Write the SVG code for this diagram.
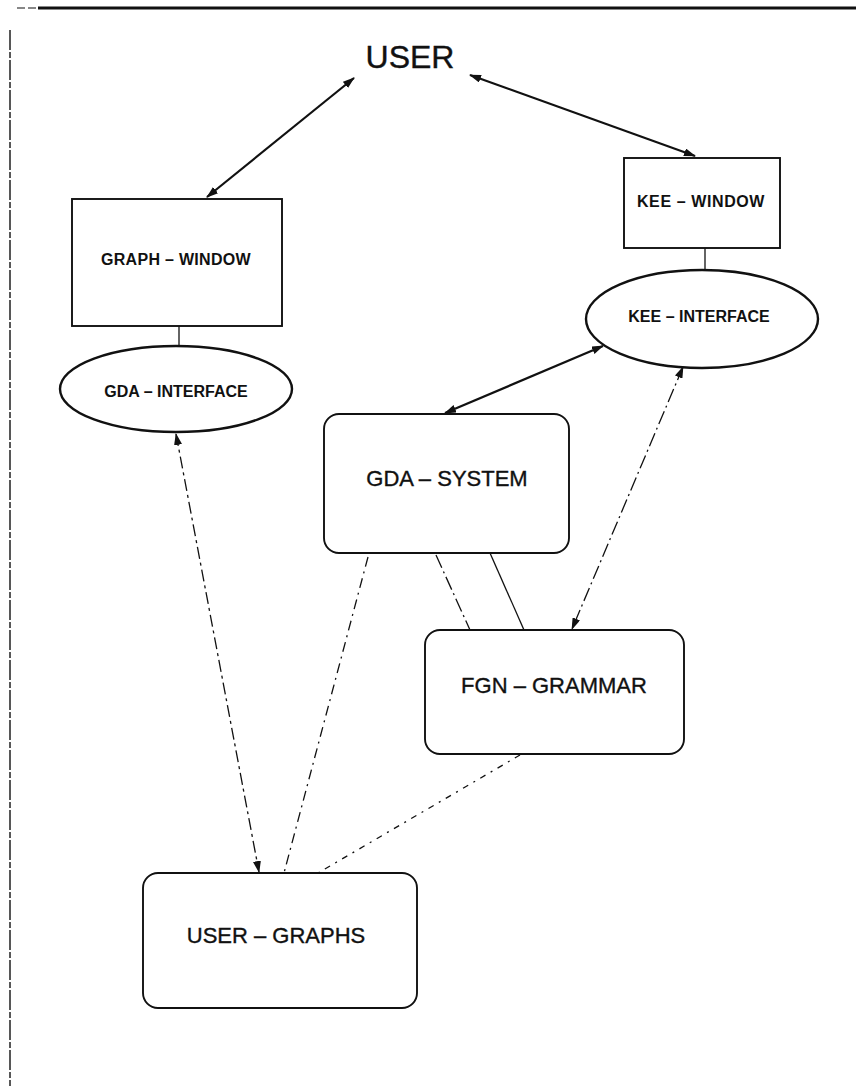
<svg xmlns="http://www.w3.org/2000/svg" width="856" height="1086" viewBox="0 0 856 1086">
  <defs>
    <style>
      .frame { stroke: #111; fill: none; }
      .box { fill: #fff; stroke: #111; stroke-width: 1.9; }
      .oval { fill: #fff; stroke: #111; stroke-width: 2.4; }
      .lbl-b { font-family: "Liberation Sans", Arial, sans-serif; font-weight: bold; font-size: 16px; fill: #111; text-anchor: middle; }
      .lbl { font-family: "Liberation Sans", Arial, sans-serif; font-size: 22px; fill: #111; stroke: #111; stroke-width: 0.35; text-anchor: middle; }
      .title { font-family: "Liberation Sans", Arial, sans-serif; font-size: 32px; fill: #111; stroke: #111; stroke-width: 0.4; text-anchor: middle; }
      .edge { stroke: #111; fill: none; stroke-width: 1.3; }
      .solid2 { stroke-width: 2.2; }
      .dashdot { stroke-dasharray: 14 4 2 4; }
      .dashed { stroke-dasharray: 10 5 2 5; }
      .dotted { stroke-dasharray: 6 6 2 6; }
      .link { stroke-dasharray: 12 4 3 4; }
    </style>
    <marker id="head" viewBox="0 0 12 8" refX="11" refY="4" markerWidth="12" markerHeight="8" markerUnits="userSpaceOnUse" orient="auto-start-reverse">
      <path d="M0,0 L12,4 L0,8 z" fill="#111" stroke="none"/>
    </marker>
  </defs>

  <!-- page frame -->
  <g id="frame">
    <line class="frame" x1="17" y1="8" x2="38" y2="8" stroke-width="1.2" stroke-dasharray="8 3"/>
    <line class="frame" x1="38" y1="8" x2="856" y2="8" stroke-width="2.8"/>
    <line class="frame" x1="10" y1="30" x2="10" y2="1086" stroke-width="1.4" stroke-dasharray="20 2 6 2"/>
  </g>

  <!-- connectors -->
  <g id="connectors">
    <line class="edge solid2" x1="354" y1="78" x2="207" y2="197" marker-start="url(#head)" marker-end="url(#head)"/>
    <line class="edge solid2" x1="470" y1="75" x2="695" y2="156" marker-start="url(#head)" marker-end="url(#head)"/>
    <line class="edge solid2" x1="603" y1="346" x2="445" y2="413" marker-start="url(#head)" marker-end="url(#head)"/>
    <line class="edge dashdot" x1="683" y1="367" x2="572" y2="629" marker-start="url(#head)" marker-end="url(#head)"/>
    <line class="edge link" x1="176" y1="434" x2="259" y2="872" marker-start="url(#head)" marker-end="url(#head)"/>
    <line class="edge dashed" x1="368" y1="557" x2="284" y2="873"/>
    <line class="edge dashdot" x1="436" y1="555" x2="470" y2="630"/>
    <line class="edge" x1="490" y1="553" x2="524" y2="630" stroke-width="1.7"/>
    <line class="edge dotted" x1="520" y1="755" x2="318" y2="873"/>
    <line class="edge" x1="179" y1="326" x2="179" y2="346"/>
    <line class="edge" x1="705" y1="248" x2="705" y2="270"/>
  </g>

  <g id="user">
    <text class="title" x="410" y="68">USER</text>
  </g>

  <g id="graph-window">
    <rect class="box" x="72" y="199" width="210" height="127"/>
    <text class="lbl-b" x="176" y="265" letter-spacing="0.3">GRAPH – WINDOW</text>
  </g>

  <g id="gda-interface">
    <ellipse class="oval" cx="176" cy="389" rx="116" ry="43"/>
    <text class="lbl-b" x="176" y="397">GDA – INTERFACE</text>
  </g>

  <g id="kee-window">
    <rect class="box" x="624" y="158" width="156" height="90"/>
    <text class="lbl-b" x="701" y="207" letter-spacing="0.6">KEE – WINDOW</text>
  </g>

  <g id="kee-interface">
    <ellipse class="oval" cx="702" cy="319" rx="116" ry="49"/>
    <text class="lbl-b" x="699" y="322">KEE – INTERFACE</text>
  </g>

  <g id="gda-system">
    <rect class="box" x="324" y="414" width="245" height="139" rx="15" ry="15"/>
    <text class="lbl" x="447" y="486">GDA – SYSTEM</text>
  </g>

  <g id="fgn-grammar">
    <rect class="box" x="425" y="630" width="259" height="124" rx="15" ry="15"/>
    <text class="lbl" x="554" y="693">FGN – GRAMMAR</text>
  </g>

  <g id="user-graphs">
    <rect class="box" x="143" y="873" width="274" height="135" rx="15" ry="15"/>
    <text class="lbl" x="276" y="943">USER – GRAPHS</text>
  </g>
</svg>
